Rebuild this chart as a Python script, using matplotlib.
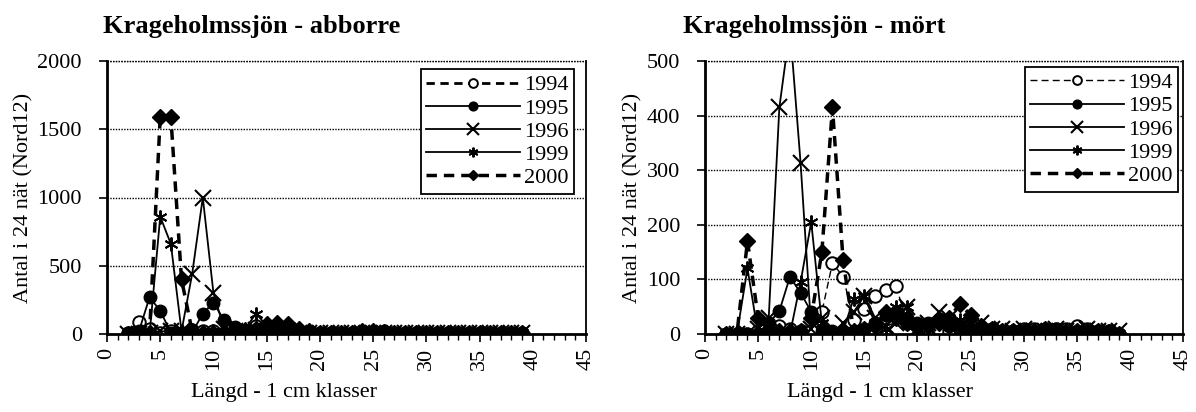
import matplotlib
matplotlib.use("Agg")
import matplotlib.pyplot as plt
from matplotlib.ticker import MultipleLocator

plt.rcParams['font.family'] = ['Liberation Serif', 'DejaVu Serif']

# langdklasser (cm)
langd = list(range(2, 40))

# Krageholmssjon - abborre
abb_1994 = [10, 90, 40, 5, 20, 10, 30, 20, 25, 10, 15, 20, 60, 30, 20, 15, 10, 10, 5,
            10, 5, 10, 5, 5, 5, 10, 5, 5, 5, 5, 10, 5, 5, 5, 5, 5, 5, 5]
abb_1995 = [0, 20, 270, 170, 10, 5, 10, 150, 230, 100, 50, 30, 20, 40, 30, 20, 15, 10, 10,
            5, 10, 5, 15, 10, 20, 10, 5, 10, 5, 5, 10, 5, 5, 5, 10, 5, 5, 5]
abb_1996 = [0, 0, 10, 20, 20, 20, 440, 1000, 300, 40, 20, 10, 30, 20, 10, 20, 10, 5, 10,
            5, 5, 10, 5, 5, 10, 5, 5, 5, 5, 10, 5, 5, 5, 5, 5, 5, 5, 5]
abb_1999 = [0, 0, 0, 860, 660, 20, 10, 10, 20, 10, 20, 40, 150, 60, 40, 30, 20, 10, 10,
            5, 10, 5, 5, 10, 5, 10, 5, 5, 5, 5, 5, 5, 5, 10, 5, 5, 5, 5]
abb_2000 = [0, 0, 10, 1590, 1590, 400, 20, 10, 10, 5, 10, 20, 40, 70, 80, 70, 40, 20, 10,
            10, 10, 10, 20, 25, 15, 10, 10, 5, 5, 5, 5, 5, 5, 5, 5, 5, 5, 5]

# Krageholmssjon - mort
mort_1994 = [0, 0, 0, 0, 5, 15, 10, 5, 5, 40, 130, 105, 25, 45, 70, 80, 88, 20, 15,
             10, 10, 5, 10, 15, 10, 10, 5, 5, 10, 10, 10, 10, 10, 15, 10, 5, 5, 0]
mort_1995 = [0, 0, 0, 0, 20, 42, 105, 75, 41, 5, 5, 5, 5, 10, 20, 35, 40, 30, 20,
             20, 25, 15, 10, 10, 10, 10, 5, 5, 5, 5, 5, 10, 5, 5, 5, 5, 5, 0]
mort_1996 = [0, 0, 0, 10, 30, 415, 560, 313, 10, 30, 0, 20, 40, 70, 30, 15, 20, 50, 10,
             20, 40, 30, 20, 15, 20, 10, 10, 5, 10, 5, 5, 10, 5, 5, 10, 5, 5, 5]
mort_1999 = [0, 0, 120, 0, 0, 0, 0, 95, 205, 20, 0, 5, 65, 70, 20, 10, 50, 50, 15,
             10, 20, 30, 25, 20, 10, 10, 5, 5, 5, 5, 5, 5, 5, 5, 5, 5, 5, 0]
mort_2000 = [0, 0, 170, 30, 10, 5, 5, 5, 30, 150, 415, 135, 5, 10, 15, 40, 30, 20, 15,
             15, 20, 30, 55, 35, 15, 10, 5, 5, 5, 5, 10, 5, 5, 5, 5, 5, 0, 0]

years = ['1994', '1995', '1996', '1999', '2000']

fig = plt.figure(figsize=(11.96, 4.12), dpi=100)
ax1 = fig.add_axes([107/1196, 1-334/412, 479/1196, 273/412])
ax2 = fig.add_axes([705/1196, 1-334/412, 478/1196, 273/412])


def rita(ax, serier, ymax, ysteg, tunn94, legpos):
    lw94 = 1.0 if tunn94 else 2.0
    st = [
        dict(ls=(0, (5, 3)) if tunn94 else (0, (3, 2)), lw=lw94, marker='o', ms=9, mfc='white', mec='black', mew=1.4),
        dict(ls='-', lw=1.3, marker='o', ms=9, mfc='black', mec='black'),
        dict(ls='-', lw=1.3, marker='x', ms=12, mec='black', mew=1.5),
        dict(ls='-', lw=1.3, marker=(6, 2, 0), ms=10, mec='black', mew=1.4),
        dict(ls=(0, (3, 2)), lw=2.5, marker='D', ms=8, mfc='black', mec='black'),
    ]
    for y, s, lab in zip(serier, st, years):
        ax.plot(langd, y, color='black', label=lab, **s)
    ax.set_xlim(0, 45)
    ax.set_ylim(0, ymax)
    ax.xaxis.set_major_locator(MultipleLocator(5))
    ax.xaxis.set_minor_locator(MultipleLocator(1))
    ax.yaxis.set_major_locator(MultipleLocator(ysteg))
    ax.tick_params(axis='x', which='major', direction='out', length=6, width=1.2, labelsize=16,
                   labelrotation=90, pad=4)
    ax.tick_params(axis='x', which='minor', direction='out', length=4, width=1)
    ax.tick_params(axis='y', direction='out', length=6, width=1.2, labelsize=16, pad=12)
    ax.grid(axis='y', color='black', ls=(0, (1, 1)), lw=1)
    ax.set_axisbelow(True)
    ax.spines['top'].set_visible(False)
    ax.spines['left'].set_linewidth(2)
    ax.spines['bottom'].set_linewidth(2)
    ax.spines['right'].set_linewidth(1.3)
    ax.axhline(ymax, color='black', ls=(0, (1, 1)), lw=1, clip_on=False)
    ax.set_ylabel('Antal i 24 nät (Nord12)', fontsize=16, labelpad=3)
    leg = ax.legend(loc='upper right', bbox_to_anchor=legpos, fontsize=16, handlelength=4.2,
                    labelspacing=0.12, borderpad=0.25, handletextpad=0.2, fancybox=False, framealpha=1,
                    edgecolor='black', borderaxespad=0, markerscale=0.7)
    leg.get_frame().set_linewidth(1.3)


rita(ax1, [abb_1994, abb_1995, abb_1996, abb_1999, abb_2000], 2000, 500, False, (0.975, 0.97))
rita(ax2, [mort_1994, mort_1995, mort_1996, mort_1999, mort_2000], 500, 100, True, (0.99, 0.978))

fig.text(103/1196, 1-33/412, 'Krageholmssjön - abborre', fontsize=19, fontweight='bold', va='baseline')
fig.text(683/1196, 1-33/412, 'Krageholmssjön - mört', fontsize=19, fontweight='bold', va='baseline')
fig.text(284/1196, 1-393/412, 'Längd - 1 cm klasser', fontsize=16, ha='center', va='center')
fig.text(880/1196, 1-393/412, 'Längd - 1 cm klasser', fontsize=16, ha='center', va='center')

fig.savefig('out.png', dpi=100)
